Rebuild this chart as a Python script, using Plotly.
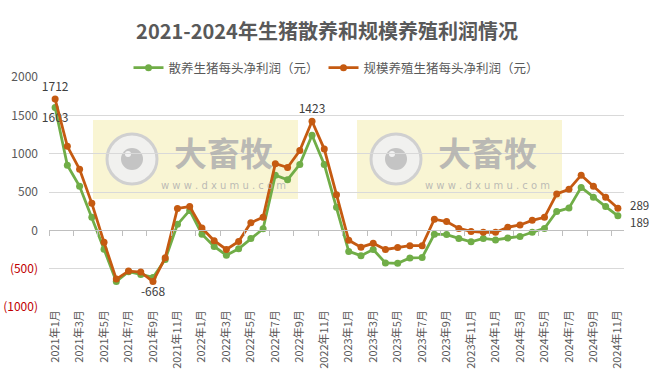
import plotly.graph_objects as go

# ---------------- data ----------------
months = [f"{y}年{m}月" for y in range(2021, 2025) for m in range(1, 13)][:47]

retail_profit = [1603, 848, 574, 170, -248, -666, -540, -575, -615, -380,
                 78, 260, -50, -210, -325, -240, -105, 20, 720, 660,
                 860, 1240, 860, 300, -275, -330, -250, -425, -430, -360,
                 -355, -50, -55, -105, -150, -105, -125, -100, -80, -25,
                 25, 245, 290, 560, 430, 310, 189]

scale_profit = [1712, 1096, 796, 352, -157, -636, -532, -545, -668, -357,
                285, 310, 30, -135, -250, -145, 100, 170, 870, 820,
                1040, 1423, 1060, 465, -130, -220, -170, -250, -225, -200,
                -200, 145, 115, 25, -15, -25, -25, 40, 70, 130,
                170, 475, 535, 720, 575, 430, 289]

series_names = ["散养生猪每头净利润（元）", "规模养殖生猪每头净利润（元）"]
title_text = "2021-2024年生猪散养和规模养殖利润情况"
y_ticks = [-1000, -500, 0, 500, 1000, 1500, 2000]
y_ticktext = ["<span style='color:#C00000'>(1000)</span>",
              "<span style='color:#C00000'>(500)</span>",
              "0", "500", "1000", "1500", "2000"]

# labels shown on points
retail_labels = {0: ("1603", "bottom center")}
scale_labels = {0: ("1712", "top center"), 8: ("-668", "bottom center"),
                21: ("1423", "top center")}
# end-of-series labels (values, yshift)
end_labels = [(retail_profit, -6), (scale_profit, 3)]

GREEN = "#70AD47"
ORANGE = "#C55A11"
FONT = "Noto Sans CJK SC, Noto Sans, sans-serif"


def make_text(n, labels):
    txt = [labels[i][0] if i in labels else "" for i in range(n)]
    pos = [labels[i][1] if i in labels else "top center" for i in range(n)]
    return txt, pos


fig = go.Figure()

rt, rp = make_text(len(months), retail_labels)
st, sp = make_text(len(months), scale_labels)

fig.add_trace(go.Scatter(
    x=months, y=retail_profit, name=series_names[0],
    mode="lines+markers+text", text=rt, textposition=rp,
    textfont=dict(size=12, color="#404040", family=FONT),
    line=dict(color=GREEN, width=2.8),
    marker=dict(color=GREEN, size=7),
    cliponaxis=False,
))
fig.add_trace(go.Scatter(
    x=months, y=scale_profit, name=series_names[1],
    mode="lines+markers+text", text=st, textposition=sp,
    textfont=dict(size=12, color="#404040", family=FONT),
    line=dict(color=ORANGE, width=2.8),
    marker=dict(color=ORANGE, size=7),
    cliponaxis=False,
))
# helper trace for the zero-crossing category axis (ticks between categories)
fig.add_trace(go.Scatter(x=[-0.5], y=[0], xaxis="x2", mode="none",
                         showlegend=False, hoverinfo="skip"))

# ---------------- layout ----------------
L, R, T, B = 49, 48, 77, 75
W, H = 672, 382
pw, ph = W - L - R, H - T - B


def px(x):
    return (x - L) / pw


def py(y):
    return (H - B - y) / ph


shapes = []
annotations = []
for rx in (93, 357):
    shapes.append(dict(type="rect", xref="paper", yref="paper",
                       x0=px(rx), x1=px(rx + 205), y0=py(199), y1=py(120),
                       fillcolor="rgba(240,228,140,0.38)", line=dict(width=0),
                       layer="below"))
    cx, cy = rx + 39, 159
    shapes.append(dict(type="circle", xref="paper", yref="paper",
                       x0=px(cx - 25), x1=px(cx + 25), y0=py(cy + 25), y1=py(cy - 25),
                       fillcolor="rgba(240,240,240,0.95)",
                       line=dict(color="#D0D0D0", width=3), layer="below"))
    shapes.append(dict(type="circle", xref="paper", yref="paper",
                       x0=px(cx - 11), x1=px(cx + 11), y0=py(cy + 11), y1=py(cy - 11),
                       fillcolor="#C4C4C4", line=dict(width=0), layer="below"))
    shapes.append(dict(type="circle", xref="paper", yref="paper",
                       x0=px(cx - 7), x1=px(cx - 1), y0=py(cy - 2), y1=py(cy - 8),
                       fillcolor="#F2F2F2", line=dict(width=0), layer="below"))
    annotations.append(dict(text="<b>大畜牧</b>", xref="paper", yref="paper",
                            x=px(rx + 130), y=py(152), showarrow=False,
                            xanchor="center", yanchor="middle",
                            font=dict(size=33, color="rgba(175,175,175,0.85)", family=FONT)))
    annotations.append(dict(text="w w w . d x u m u . c o m", xref="paper", yref="paper",
                            x=px(rx + 130), y=py(185), showarrow=False,
                            xanchor="center", yanchor="middle",
                            font=dict(size=10, color="rgba(175,175,175,0.85)",
                                      family="DejaVu Sans, sans-serif")))

for vals, ys in end_labels:
    annotations.append(dict(text=str(vals[-1]), x=months[len(vals) - 1], y=vals[-1],
                            xref="x", yref="y", showarrow=False, xanchor="left",
                            yanchor="middle", xshift=10, yshift=ys,
                            font=dict(size=11.5, color="#404040", family=FONT)))

fig.update_layout(
    width=W, height=H,
    margin=dict(l=L, r=R, t=T, b=B, autoexpand=False),
    paper_bgcolor="white", plot_bgcolor="white",
    font=dict(family=FONT, color="#595959"),
    title=dict(text="<b>" + title_text + "</b>", x=327 / W, xanchor="center",
               y=1 - 32 / H, yanchor="middle",
               font=dict(size=20, color="#595959", family=FONT)),
    legend=dict(orientation="h", x=0.5, xanchor="center", y=py(68), yanchor="middle",
                font=dict(size=12.5, color="#595959", family=FONT),
                itemwidth=30, bgcolor="rgba(0,0,0,0)"),
    xaxis=dict(type="category", range=[-0.5, len(months) - 0.5], automargin=False,
               tickmode="array", tickvals=months[::2], ticktext=months[::2],
               tickangle=-90, tickfont=dict(size=11, color="#595959", family=FONT),
               showgrid=False, showline=False, ticks="", zeroline=False),
    xaxis2=dict(overlaying="x", anchor="free", position=1 / 3, automargin=False,
                range=[-0.5, len(months) - 0.5],
                tickmode="array", tickvals=[i - 0.5 for i in range(0, len(months), 2)],
                showticklabels=False, ticks="outside", ticklen=5, tickcolor="#BFBFBF",
                showline=True, linecolor="#BFBFBF", linewidth=1,
                showgrid=False, zeroline=False),
    yaxis=dict(range=[-1000, 2000], tickmode="array", tickvals=y_ticks, automargin=False,
               ticktext=y_ticktext, tickfont=dict(size=12, color="#595959", family=FONT),
               showgrid=True, gridcolor="#D9D9D9", gridwidth=1, zeroline=False,
               ticks="", ticklabelstandoff=10),
    shapes=shapes, annotations=annotations,
    showlegend=True,
)

fig.write_html("out.html", config={"displayModeBar": False},
               post_script="document.body.style.margin='0';")
